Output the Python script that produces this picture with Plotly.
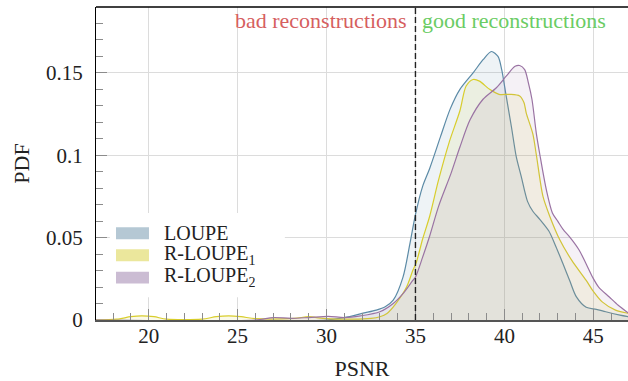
import plotly.graph_objects as go

# ---------------- data ----------------
labels = ["LOUPE", "R-LOUPE<sub>1</sub>", "R-LOUPE<sub>2</sub>"]

loupe_x = [17, 30, 31.3, 32.0, 32.8, 33.3, 33.75, 34.3, 34.7, 35.0, 35.4, 35.8, 36.4, 36.95,
           37.5, 38.24, 38.8, 39.27, 39.64, 39.85, 40.1, 40.4, 40.67, 40.95, 41.3, 41.6, 42.0,
           42.5, 42.9, 43.3, 43.67, 44.05, 44.6, 45.17, 45.7, 46.5, 47]
loupe_y = [0, 0, 0.002, 0.004, 0.006, 0.008, 0.012, 0.026, 0.047, 0.064, 0.081, 0.092, 0.111,
           0.128, 0.140, 0.150, 0.158, 0.163, 0.160, 0.152, 0.136, 0.117, 0.099, 0.087, 0.072,
           0.066, 0.061, 0.054, 0.0445, 0.034, 0.024, 0.014, 0.0077, 0.0065, 0.005, 0.003, 0.002]

r1_x = [17, 18.2, 19.0, 19.6, 20.3, 21, 23, 23.8, 24.5, 25.2, 26, 28.2, 29.0, 29.8, 31.5, 32.5,
        33.0, 33.4, 33.9, 34.5, 34.85, 35.05, 35.4, 35.8, 36.3, 36.9, 37.5, 37.85, 38.24, 38.6,
        39.17, 39.7, 40.3, 40.86, 41.1, 41.23, 41.6, 41.8, 42.17, 42.55, 43.1, 43.8, 44.6, 44.96,
        45.5, 46.25, 47]
r1_y = [0, 0.0005, 0.002, 0.0025, 0.002, 0.0005, 0.0005, 0.002, 0.0025, 0.002, 0.0008, 0.001,
        0.002, 0.001, 0.0005, 0.001, 0.002, 0.004, 0.010, 0.020, 0.030, 0.035, 0.049, 0.063,
        0.085, 0.108, 0.127, 0.142, 0.146, 0.145, 0.140, 0.137, 0.137, 0.136, 0.132, 0.1256,
        0.113, 0.100, 0.075, 0.063, 0.049, 0.036, 0.024, 0.018, 0.011, 0.006, 0.004]

r2_x = [17, 26.0, 27.0, 28.0, 29.0, 30.1, 31.0, 31.9, 33.0, 33.75, 34.3, 34.85, 35.0, 35.4, 35.8,
        36.3, 37.0, 37.5, 38.07, 38.8, 39.55, 40.1, 40.6, 40.86, 41.14, 41.35, 41.55, 41.8, 42.0,
        42.36, 42.7, 43.0, 43.3, 43.7, 44.2, 44.6, 44.96, 45.3, 45.9, 46.4, 47]
r2_y = [0, 0, 0.0015, 0.001, 0.0015, 0.0022, 0.0015, 0.0025, 0.005, 0.010, 0.016, 0.024, 0.026,
        0.038, 0.051, 0.069, 0.089, 0.105, 0.1215, 0.134, 0.141, 0.148, 0.154, 0.1545, 0.152,
        0.144, 0.134, 0.113, 0.100, 0.079, 0.065, 0.060, 0.055, 0.050, 0.0425, 0.034, 0.026,
        0.020, 0.014, 0.009, 0.004]

threshold = 35
x_ticks = [20, 25, 30, 35, 40, 45]
y_ticks = [0, 0.05, 0.1, 0.15]
y_ticktext = ["0", "0.05", "0.1", "0.15"]

# ---------------- styles ----------------
line_colors = ["#5b8aa6", "#d8cd2c", "#9a73a3"]
fill_colors = ["rgba(91,138,166,0.10)", "rgba(216,205,44,0.10)", "rgba(154,115,163,0.10)"]
swatch_colors = ["#b5c8d4", "#ebe79c", "#cbbcd3"]
FONT = "Liberation Serif, serif"

fig = go.Figure()
series = [(loupe_x, loupe_y), (r1_x, r1_y), (r2_x, r2_y)]
for (xs, ys), lc, fc, name in zip(series, line_colors, fill_colors, labels):
    fig.add_trace(go.Scatter(
        x=xs, y=ys, mode="lines", name=name,
        line=dict(color=lc, width=1.2, shape="spline", smoothing=0.8),
        fill="tozeroy", fillcolor=fc, showlegend=False, hoverinfo="skip"))

# threshold line
fig.add_shape(type="line", x0=threshold, x1=threshold, xref="x", y0=0, y1=1, yref="paper",
              line=dict(color="#222222", width=1.4, dash="6px,3px"), layer="above")
# top border
fig.add_shape(type="line", x0=0, x1=1, xref="paper", y0=1, y1=1, yref="paper",
              line=dict(color="black", width=1.3), layer="above")

fig.add_annotation(x=threshold, y=0.182, xref="x", yref="y", text="bad reconstructions",
                   showarrow=False, xanchor="right", yanchor="middle", xshift=-6,
                   font=dict(family=FONT, size=22, color="#d65f5f"))
fig.add_annotation(x=threshold, y=0.182, xref="x", yref="y", text="good reconstructions",
                   showarrow=False, xanchor="left", yanchor="middle", xshift=5,
                   font=dict(family=FONT, size=22, color="#6acc64"))

# manual legend (white box + swatches + labels), paper coordinates
fig.add_shape(type="rect", xref="paper", yref="paper", x0=0.026, x1=0.355, y0=0.073, y1=0.342,
              fillcolor="white", line=dict(width=0), layer="above")
sw_y = [(0.258, 0.296), (0.188, 0.226), (0.117, 0.154)]
lab_y = [0.277, 0.207, 0.136]
for (y0, y1), ly, sc, name in zip(sw_y, lab_y, swatch_colors, labels):
    fig.add_shape(type="rect", xref="paper", yref="paper", x0=0.0376, x1=0.0996, y0=y0, y1=y1,
                  fillcolor=sc, line=dict(width=0), layer="above")
    fig.add_annotation(x=0.1246, y=ly, xref="paper", yref="paper", text=name, showarrow=False,
                       xanchor="left", yanchor="middle", height=20, valign="middle",
                       font=dict(family=FONT, size=20, color="#222222"))

fig.update_xaxes(
    range=[17.04, 46.95], tickvals=x_ticks, ticks="inside", ticklen=11, tickcolor="#8c8c8c",
    tickwidth=1, showgrid=True, gridcolor="#dcdcdc", gridwidth=1, zeroline=False,
    showline=True, linecolor="#555555", linewidth=2, ticklabelstandoff=-4,
    minor=dict(dtick=1, ticks="inside", ticklen=7, tickcolor="#8c8c8c", tickwidth=1, showgrid=False),
    title=dict(text="PSNR", font=dict(family=FONT, size=22, color="#222222"), standoff=16),
    tickfont=dict(family=FONT, size=21, color="#222222"))
fig.update_yaxes(
    range=[0, 0.19], tickvals=y_ticks, ticktext=y_ticktext, ticks="inside", ticklen=11,
    tickcolor="#8c8c8c", tickwidth=1, showgrid=True, gridcolor="#dcdcdc", gridwidth=1,
    zeroline=False, showline=True, linecolor="black", linewidth=1.3, ticklabelstandoff=8,
    minor=dict(dtick=0.01, ticks="inside", ticklen=7, tickcolor="#8c8c8c", tickwidth=1, showgrid=False),
    title=dict(text="PDF", font=dict(family=FONT, size=22, color="#222222"), standoff=10),
    tickfont=dict(family=FONT, size=21, color="#222222"))

fig.update_layout(width=628, height=381, margin=dict(l=96, r=0, t=7, b=61),
                  plot_bgcolor="white", paper_bgcolor="white", showlegend=False)

fig.write_html("out.html")
